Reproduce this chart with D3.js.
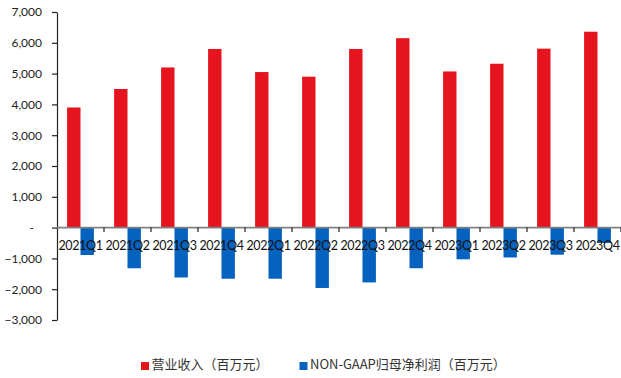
<!DOCTYPE html>
<html>
<head>
<meta charset="utf-8">
<script src="https://cdn.jsdelivr.net/npm/d3@7"></script>
<style>
  html, body { margin: 0; padding: 0; background: #fff; }
  svg { display: block; }
</style>
</head>
<body>
<svg id="chart" width="621" height="378"></svg>
<script>
// Quarterly revenue and NON-GAAP net profit attributable to parent (RMB million)
const quarters = ["2021Q1","2021Q2","2021Q3","2021Q4","2022Q1","2022Q2","2022Q3","2022Q4","2023Q1","2023Q2","2023Q3","2023Q4"];
const revenue = [3900, 4500, 5200, 5800, 5050, 4900, 5800, 6150, 5070, 5320, 5810, 6360];
const nonGaapProfit = [-890, -1320, -1620, -1660, -1660, -1960, -1780, -1320, -1030, -970, -880, -500];
const seriesNames = ["营业收入（百万元）", "NON-GAAP归母净利润（百万元）"];
const seriesColors = ["#E5141F", "#0562BE"];
const yTicks = [-3000, -2000, -1000, 0, 1000, 2000, 3000, 4000, 5000, 6000, 7000];

const svg = d3.select("#chart");
const plotLeft = 57, plotRight = 621, plotTop = 12, plotBottom = 320;

const y = d3.scaleLinear().domain([-3000, 7000]).range([plotBottom, plotTop]);
const x0 = d3.scaleBand().domain(quarters).range([plotLeft, plotRight])
  .paddingInner(0.43).paddingOuter(0.215);
const keys = ["rev", "np"];
const x1 = d3.scaleBand().domain(keys).range([0, x0.bandwidth()]).padding(0);
const color = d3.scaleOrdinal().domain(keys).range(seriesColors);

const rows = quarters.map((q, i) => ({ q, rev: revenue[i], np: nonGaapProfit[i] }));

// bars
const groups = svg.append("g").selectAll("g").data(rows).join("g")
  .attr("transform", d => `translate(${x0(d.q)},0)`);
groups.selectAll("rect")
  .data(d => keys.map(k => ({ k, v: d[k] })))
  .join("rect")
  .attr("x", d => x1(d.k))
  .attr("width", x1.bandwidth())
  .attr("y", d => y(Math.max(0, d.v)))
  .attr("height", d => Math.abs(y(d.v) - y(0)))
  .attr("fill", d => color(d.k));

// y axis
const fmt = d3.format(",");
const yAxis = svg.append("g")
  .attr("transform", `translate(${plotLeft},0)`)
  .call(d3.axisLeft(y).tickValues(yTicks).tickSize(5).tickPadding(10)
    .tickSizeOuter(0).tickFormat(v => v === 0 ? "-" : fmt(v)));
yAxis.select(".domain").attr("stroke", "#222").attr("stroke-width", 1.2);
yAxis.selectAll(".tick line").attr("stroke", "#222").attr("stroke-width", 1.2);
yAxis.selectAll(".tick text")
  .attr("font-family", "Lato, 'Open Sans', sans-serif")
  .attr("font-size", 12)
  .attr("fill", "#222")
  .attr("dx", v => v === 0 ? -8 : 0);

// zero baseline and category separators
const step = x0.step();
svg.append("line")
  .attr("x1", plotLeft).attr("x2", plotRight)
  .attr("y1", y(0)).attr("y2", y(0))
  .attr("stroke", "#808080").attr("stroke-width", 1.6);
svg.append("g").selectAll("line")
  .data(d3.range(1, quarters.length + 1))
  .join("line")
  .attr("x1", i => plotLeft + i * step).attr("x2", i => plotLeft + i * step)
  .attr("y1", y(0)).attr("y2", y(0) + 4.5)
  .attr("stroke", "#222").attr("stroke-width", 1.2);

// category labels
svg.append("g").selectAll("text").data(quarters).join("text")
  .attr("x", d => x0(d) + x0.bandwidth() / 2)
  .attr("y", y(0) + 22.5)
  .attr("text-anchor", "middle")
  .attr("font-family", "Lato, 'Open Sans', sans-serif")
  .attr("font-size", 12.5)
  .attr("letter-spacing", -0.35)
  .attr("fill", "#111")
  .text(d => d);

// legend
const legendItems = [
  { name: seriesNames[0], color: seriesColors[0], x: 141 },
  { name: seriesNames[1], color: seriesColors[1], x: 299.5 }
];
const lg = svg.append("g").selectAll("g").data(legendItems).join("g")
  .attr("transform", d => `translate(${d.x},362)`);
lg.append("rect").attr("width", 8).attr("height", 8).attr("fill", d => d.color);
lg.append("text")
  .attr("x", 10.5).attr("y", 7.3)
  .attr("font-family", "'Noto Sans CJK SC', sans-serif")
  .attr("font-size", 13)
  .attr("fill", "#333")
  .text(d => d.name);
</script>
</body>
</html>
